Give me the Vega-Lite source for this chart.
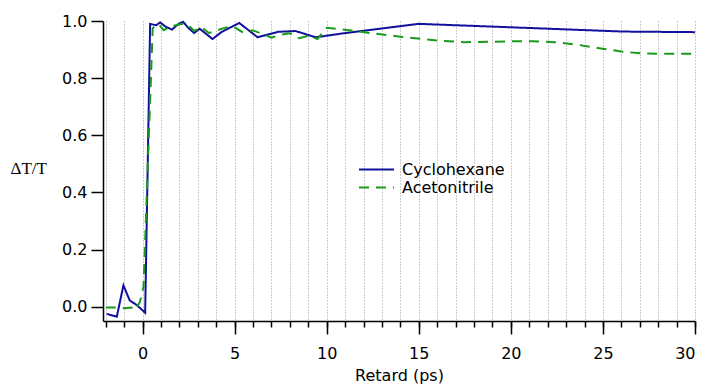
{
  "$schema": "https://vega.github.io/schema/vega-lite/v6.json",
  "width": 592,
  "height": 300,
  "autosize": {"type": "none"},
  "padding": {"left": 103, "top": 21, "right": 10, "bottom": 66},
  "background": "white",
  "config": {
    "view": {"stroke": null},
    "font": "DejaVu Sans",
    "axis": {"labelFont": "DejaVu Sans", "labelColor": "black", "titleColor": "black", "domainColor": "black", "tickColor": "black", "domainWidth": 1.5, "tickWidth": 1.5}
  },
  "datasets": {
    "curves": [
      {"t": -1.95, "v": -0.025, "series": "Cyclohexane"},
      {"t": -1.4, "v": -0.035, "series": "Cyclohexane"},
      {"t": -1.04, "v": 0.075, "series": "Cyclohexane"},
      {"t": -0.7, "v": 0.022, "series": "Cyclohexane"},
      {"t": -0.32, "v": 0.006, "series": "Cyclohexane"},
      {"t": 0.14, "v": -0.021, "series": "Cyclohexane"},
      {"t": 0.41, "v": 0.99, "series": "Cyclohexane"},
      {"t": 0.73, "v": 0.985, "series": "Cyclohexane"},
      {"t": 0.95, "v": 0.995, "series": "Cyclohexane"},
      {"t": 1.25, "v": 0.98, "series": "Cyclohexane"},
      {"t": 1.6, "v": 0.97, "series": "Cyclohexane"},
      {"t": 1.95, "v": 0.99, "series": "Cyclohexane"},
      {"t": 2.2, "v": 0.997, "series": "Cyclohexane"},
      {"t": 2.5, "v": 0.975, "series": "Cyclohexane"},
      {"t": 2.8, "v": 0.958, "series": "Cyclohexane"},
      {"t": 3.1, "v": 0.973, "series": "Cyclohexane"},
      {"t": 3.8, "v": 0.937, "series": "Cyclohexane"},
      {"t": 4.3, "v": 0.962, "series": "Cyclohexane"},
      {"t": 5.25, "v": 0.993, "series": "Cyclohexane"},
      {"t": 6.25, "v": 0.943, "series": "Cyclohexane"},
      {"t": 7.35, "v": 0.962, "series": "Cyclohexane"},
      {"t": 8.3, "v": 0.965, "series": "Cyclohexane"},
      {"t": 9.4, "v": 0.943, "series": "Cyclohexane"},
      {"t": 10.7, "v": 0.955, "series": "Cyclohexane"},
      {"t": 15.0, "v": 0.99, "series": "Cyclohexane"},
      {"t": 20.0, "v": 0.978, "series": "Cyclohexane"},
      {"t": 26.1, "v": 0.963, "series": "Cyclohexane"},
      {"t": 30.0, "v": 0.961, "series": "Cyclohexane"},
      {"t": -2.0, "v": -0.003, "series": "Acetonitrile"},
      {"t": -1.5, "v": -0.003, "series": "Acetonitrile"},
      {"t": -1.0, "v": -0.005, "series": "Acetonitrile"},
      {"t": -0.6, "v": -0.003, "series": "Acetonitrile"},
      {"t": -0.45, "v": -0.012, "series": "Acetonitrile"},
      {"t": -0.15, "v": 0.015, "series": "Acetonitrile"},
      {"t": 0.05, "v": 0.07, "series": "Acetonitrile"},
      {"t": 0.55, "v": 0.975, "series": "Acetonitrile"},
      {"t": 0.85, "v": 0.99, "series": "Acetonitrile"},
      {"t": 1.15, "v": 0.968, "series": "Acetonitrile"},
      {"t": 1.5, "v": 0.98, "series": "Acetonitrile"},
      {"t": 1.8, "v": 0.985, "series": "Acetonitrile"},
      {"t": 2.15, "v": 0.99, "series": "Acetonitrile"},
      {"t": 2.45, "v": 0.988, "series": "Acetonitrile"},
      {"t": 2.8, "v": 0.965, "series": "Acetonitrile"},
      {"t": 3.2, "v": 0.978, "series": "Acetonitrile"},
      {"t": 3.6, "v": 0.958, "series": "Acetonitrile"},
      {"t": 4.0, "v": 0.966, "series": "Acetonitrile"},
      {"t": 4.4, "v": 0.975, "series": "Acetonitrile"},
      {"t": 4.9, "v": 0.982, "series": "Acetonitrile"},
      {"t": 5.4, "v": 0.962, "series": "Acetonitrile"},
      {"t": 6.0, "v": 0.967, "series": "Acetonitrile"},
      {"t": 6.5, "v": 0.955, "series": "Acetonitrile"},
      {"t": 7.0, "v": 0.942, "series": "Acetonitrile"},
      {"t": 7.5, "v": 0.952, "series": "Acetonitrile"},
      {"t": 8.0, "v": 0.957, "series": "Acetonitrile"},
      {"t": 8.5, "v": 0.94, "series": "Acetonitrile"},
      {"t": 9.0, "v": 0.948, "series": "Acetonitrile"},
      {"t": 9.5, "v": 0.937, "series": "Acetonitrile"},
      {"t": 10.0, "v": 0.976, "series": "Acetonitrile"},
      {"t": 11.3, "v": 0.967, "series": "Acetonitrile"},
      {"t": 12.7, "v": 0.955, "series": "Acetonitrile"},
      {"t": 13.9, "v": 0.946, "series": "Acetonitrile"},
      {"t": 15.1, "v": 0.938, "series": "Acetonitrile"},
      {"t": 16.3, "v": 0.93, "series": "Acetonitrile"},
      {"t": 17.5, "v": 0.926, "series": "Acetonitrile"},
      {"t": 18.7, "v": 0.927, "series": "Acetonitrile"},
      {"t": 20.0, "v": 0.929, "series": "Acetonitrile"},
      {"t": 21.2, "v": 0.929, "series": "Acetonitrile"},
      {"t": 22.4, "v": 0.926, "series": "Acetonitrile"},
      {"t": 23.6, "v": 0.917, "series": "Acetonitrile"},
      {"t": 24.8, "v": 0.905, "series": "Acetonitrile"},
      {"t": 26.0, "v": 0.893, "series": "Acetonitrile"},
      {"t": 27.2, "v": 0.886, "series": "Acetonitrile"},
      {"t": 28.5, "v": 0.885, "series": "Acetonitrile"},
      {"t": 30.0, "v": 0.885, "series": "Acetonitrile"}
    ]
  },
  "resolve": {"axis": {"x": "independent", "y": "independent"}},
  "layer": [
    {
      "mark": {"type": "rule", "color": "black", "strokeWidth": 1.5},
      "encoding": {
        "x": {"datum": -2.15, "type": "quantitative", "scale": {"domain": [-2.15, 30], "nice": false, "zero": false},
          "axis": {"orient": "bottom", "values": [-2,-1,0,1,2,3,4,5,6,7,8,9,10,11,12,13,14,15,16,17,18,19,20,21,22,23,24,25,26,27,28,29,30], "labels": false, "domain": false, "tickSize": 6, "title": null, "grid": true, "gridColor": "#9a9a9a", "gridDash": [1, 2], "gridWidth": 1}},
        "x2": {"datum": 30},
        "y": {"datum": 0, "type": "quantitative", "scale": {"domain": [-0.05, 1.0], "nice": false, "zero": false}, "axis": null}
      }
    },
    {
      "data": {"name": "curves"},
      "mark": {"type": "line", "strokeWidth": 2},
      "encoding": {
        "x": {"field": "t", "type": "quantitative", "scale": {"domain": [-2.15, 30], "nice": false, "zero": false},
          "axis": {"orient": "bottom", "values": [0, 5, 10, 15, 20, 25, 30], "tickSize": 13, "labelPadding": 11, "labelFontSize": 16, "grid": false, "title": "Retard (ps)", "titleFont": "DejaVu Sans", "titleFontSize": 16, "titleFontWeight": "normal", "titlePadding": 6}},
        "y": {"field": "v", "type": "quantitative", "scale": {"domain": [-0.05, 1.0], "nice": false, "zero": false},
          "axis": {"values": [0, 0.2, 0.4, 0.6, 0.8, 1.0], "format": ".1f", "tickSize": 12, "labelPadding": 4, "labelFontSize": 16, "grid": false, "title": "ΔT/T", "titleFont": "Liberation Serif", "titleFontSize": 17, "titleFontWeight": "normal", "titleAngle": 0, "titleAlign": "left", "titleBaseline": "middle", "titleX": -93, "titleY": 147}},
        "color": {"field": "series", "type": "nominal", "sort": ["Cyclohexane", "Acetonitrile"],
          "scale": {"domain": ["Cyclohexane", "Acetonitrile"], "range": ["#10109c", "#1a9a1a"]},
          "legend": {"title": null, "orient": "none", "legendX": 255, "legendY": 140, "symbolType": "stroke", "symbolSize": 1225, "symbolStrokeWidth": 2, "clipHeight": 17, "rowPadding": 1, "labelFontSize": 16, "labelFont": "DejaVu Sans", "labelColor": "black", "labelOffset": 7, "padding": 0}},
        "strokeDash": {"field": "series", "type": "nominal", "sort": ["Cyclohexane", "Acetonitrile"],
          "scale": {"domain": ["Cyclohexane", "Acetonitrile"], "range": [[1, 0], [10, 7]]},
          "legend": {"title": null, "orient": "none", "legendX": 255, "legendY": 140, "symbolType": "stroke", "symbolSize": 1225, "symbolStrokeWidth": 2, "clipHeight": 17, "rowPadding": 1, "labelFontSize": 16, "labelFont": "DejaVu Sans", "labelColor": "black", "labelOffset": 7, "padding": 0}}
      }
    }
  ]
}
